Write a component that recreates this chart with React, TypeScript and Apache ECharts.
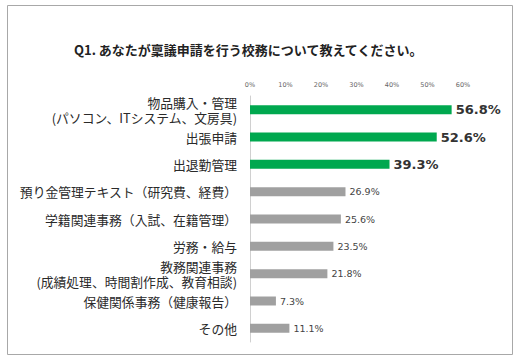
import React, { useEffect, useRef } from "react";
import * as echarts from "echarts";

const title = "Q1. あなたが稟議申請を行う校務について教えてください。";
const categories = [
  "物品購入・管理\n(パソコン、ITシステム、文房具)",
  "出張申請",
  "出退勤管理",
  "預り金管理テキスト（研究費、経費）",
  "学籍関連事務（入試、在籍管理）",
  "労務・給与",
  "教務関連事務\n(成績処理、時間割作成、教育相談)",
  "保健関係事務（健康報告）",
  "その他",
];
const values = [56.8, 52.6, 39.3, 26.9, 25.6, 23.5, 21.8, 7.3, 11.1];
const highlightCount = 3;
const xTicks = [0, 10, 20, 30, 40, 50, 60];

export default function App() {
  const ref = useRef<HTMLDivElement>(null);
  useEffect(() => {
    if (!ref.current) return;
    const chart = echarts.init(ref.current, undefined, { renderer: "svg" });
    const jp = "'Noto Sans CJK JP', sans-serif";
    const num = "'DejaVu Sans', 'Noto Sans', sans-serif";
    chart.setOption({
      animation: false,
      backgroundColor: "#ffffff",
      title: {
        text: title,
        left: 69,
        top: 38,
        textStyle: { fontFamily: jp, fontSize: 13, fontWeight: "bold", color: "#222" },
      },
      graphic: [
        {
          type: "rect",
          shape: { x: 7.5, y: 5.5, width: 505, height: 349 },
          style: { fill: "none", stroke: "#a8a8a8", lineWidth: 1 },
          silent: true,
        },
      ],
      grid: { left: 250, right: 57, top: 96, bottom: 19, containLabel: false },
      xAxis: {
        type: "value",
        position: "top",
        min: xTicks[0],
        max: xTicks[xTicks.length - 1],
        interval: 10,
        axisLine: { show: false },
        axisTick: { show: false },
        splitLine: { show: false },
        axisLabel: {
          formatter: (v: number) => `${v}%`,
          fontSize: 6.5,
          color: "#666",
          fontFamily: num,
          margin: 8,
        },
      },
      yAxis: {
        type: "category",
        inverse: true,
        data: categories,
        axisLine: { show: true, lineStyle: { color: "#d0d0d0", width: 1 } },
        axisTick: { show: false },
        axisLabel: {
          fontFamily: jp,
          fontSize: 12.8,
          color: "#2a2a2a",
          lineHeight: 15,
          margin: 13,
          align: "right",
        },
      },
      series: [
        {
          type: "bar",
          barWidth: 9,
          data: values.map((v, i) => ({
            value: v,
            itemStyle: { color: i < highlightCount ? "#00a84f" : "#a0a0a0" },
            label: i < highlightCount
              ? { fontSize: 13, fontWeight: "bold", color: "#333" }
              : { fontSize: 9.5, fontWeight: "normal", color: "#444" },
          })),
          label: {
            show: true,
            position: "right",
            distance: 4,
            fontFamily: num,
            formatter: (p: any) => `${p.value.toFixed(1)}%`,
          },
        },
      ],
    });
    return () => chart.dispose();
  }, []);
  return (
    <div
      ref={ref}
      style={{ position: "fixed", left: 0, top: 0, width: 520, height: 361 }}
    />
  );
}
